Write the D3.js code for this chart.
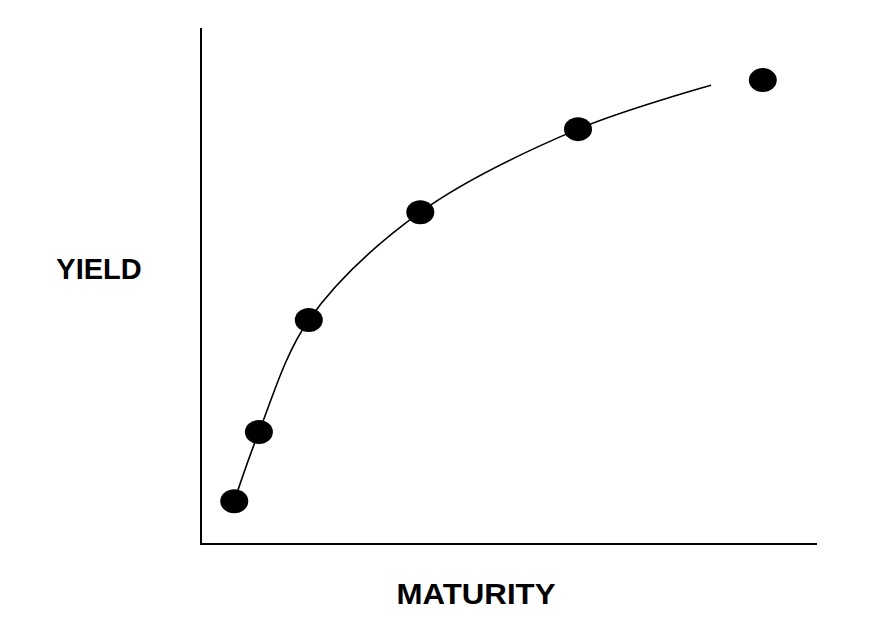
<!DOCTYPE html>
<html><head><meta charset="utf-8">
<script src="https://cdn.jsdelivr.net/npm/d3@7"></script>
<style>body{margin:0;background:#fff}svg{display:block}</style>
</head><body>
<script>
// Data (arbitrary units, 0-100 on both axes)
const maturity = [5.4, 9.4, 17.5, 35.6, 61.2, 91.2];
const yieldVals = [8.3, 21.7, 43.4, 64.3, 80.4, 89.9];
// fitted curve knots (the line ends before the last point)
const curveMaturity = [5.4, 9.4, 17.5, 35.6, 61.2, 82.8];
const curveYield = [8.3, 21.7, 43.4, 64.3, 80.4, 88.9];
const xLabel = "MATURITY";
const yLabel = "YIELD";

const W = 890, H = 638;
const svg = d3.select("body").append("svg").attr("width", W).attr("height", H);
const x = d3.scaleLinear().domain([0, 100]).range([201, 817]);
const y = d3.scaleLinear().domain([0, 100]).range([544, 28]);

// axes
svg.append("line").attr("x1", x(0)).attr("x2", x(0)).attr("y1", y(100)).attr("y2", y(0))
  .attr("stroke", "#000").attr("stroke-width", 2);
svg.append("line").attr("x1", x(0) - 1).attr("x2", x(100)).attr("y1", y(0)).attr("y2", y(0))
  .attr("stroke", "#000").attr("stroke-width", 2);

// curve
const curvePts = curveMaturity.map((m, i) => [m, curveYield[i]]);
svg.append("path")
  .attr("d", d3.line().x(d => x(d[0])).y(d => y(d[1])).curve(d3.curveCatmullRom.alpha(0.5))(curvePts))
  .attr("fill", "none").attr("stroke", "#000").attr("stroke-width", 1.6);

// points
svg.selectAll("ellipse.pt").data(maturity.map((m, i) => [m, yieldVals[i]])).enter()
  .append("ellipse").attr("class", "pt")
  .attr("cx", d => x(d[0])).attr("cy", d => y(d[1]))
  .attr("rx", 14).attr("ry", 12).attr("fill", "#000");

// labels
svg.append("text").attr("x", 476).attr("y", 604).attr("text-anchor", "middle")
  .attr("font-family", "Liberation Sans, Arial, sans-serif").attr("font-weight", "bold")
  .attr("font-size", 30).attr("textLength", 159).attr("lengthAdjust", "spacingAndGlyphs")
  .text(xLabel);
svg.append("text").attr("x", 99).attr("y", 279).attr("text-anchor", "middle")
  .attr("font-family", "Liberation Sans, Arial, sans-serif").attr("font-weight", "bold")
  .attr("font-size", 29).text(yLabel);
</script>
</body></html>
